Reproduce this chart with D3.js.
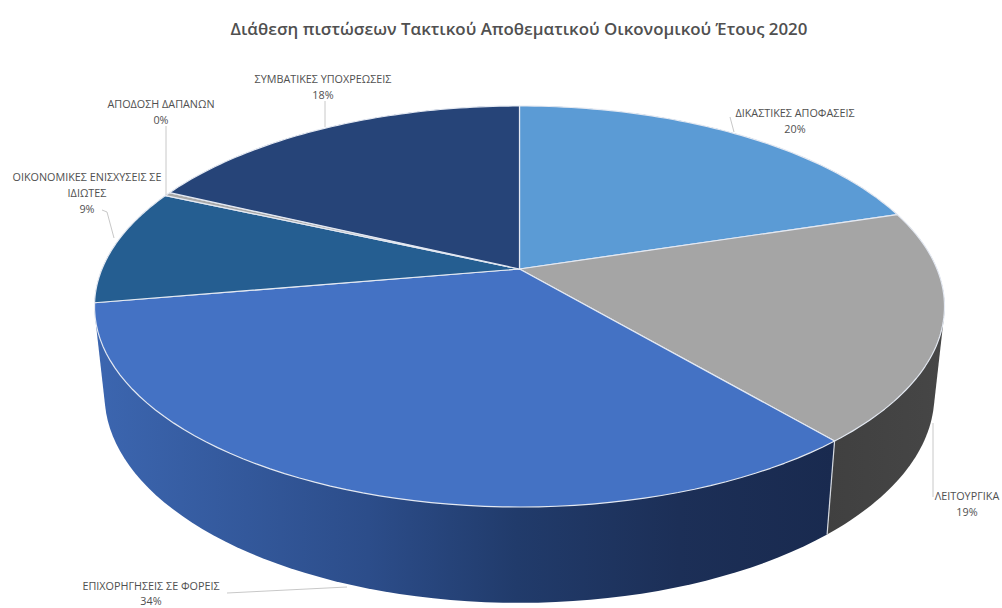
<!DOCTYPE html>
<html>
<head>
<meta charset="utf-8">
<script src="https://cdnjs.cloudflare.com/ajax/libs/d3/7.8.5/d3.min.js"></script>
<style>
  html, body { margin: 0; padding: 0; background: #fff; }
  svg { display: block; }
  text { font-family: "Open Sans", "Noto Sans", sans-serif; fill: #505050; }
</style>
</head>
<body>
<div id="chart"></div>
<script>
const categories = ["ΔΙΚΑΣΤΙΚΕΣ ΑΠΟΦΑΣΕΙΣ", "ΛΕΙΤΟΥΡΓΙΚΑ", "ΕΠΙΧΟΡΗΓΗΣΕΙΣ ΣΕ ΦΟΡΕΙΣ", "ΟΙΚΟΝΟΜΙΚΕΣ ΕΝΙΣΧΥΣΕΙΣ ΣΕ ΙΔΙΩΤΕΣ", "ΑΠΟΔΟΣΗ ΔΑΠΑΝΩΝ", "ΣΥΜΒΑΤΙΚΕΣ ΥΠΟΧΡΕΩΣΕΙΣ"];
const values = [20.2, 18.6, 33.5, 9.4, 0.3, 18.0];
const topColors = ["#5b9bd5", "#a5a5a5", "#4472c4", "#255e91", "#a8a8a8", "#264478"];
const sideColors = ["#3a6a94", "url(#greySide)", "url(#blueSide)", "#1c4a72", "#777", "#1c3359"];
const wallOrder = [0, 5, 4, 3, 1, 2];
const title = "Διάθεση πιστώσεων Τακτικού Αποθεματικού Οικονομικού Έτους 2020";

const width = 1002, height = 608;
const svg = d3.select("#chart").append("svg").attr("width", width).attr("height", height);

// the tilted disc: circle angle -> screen, with a bit of perspective
const persp = -0.187;
const topFace = { cx: 519.5, cy: 269, rx: 417.5, ry: 193.5 };
const bottomFace = { cx: 519.5, cy: 356, rx: 407.6, ry: 200.7 };
const project = (face, a) => {
  const u = Math.sin(a), v = -Math.cos(a), w = 1 + persp * v;
  return [face.cx + face.rx * u / w, face.cy + face.ry * v / w];
};
const arcPoints = (face, a0, a1) => d3.range(0, 61).map(i => project(face, a0 + (a1 - a0) * i / 60));
const line = d3.line();

const slices = d3.pie().sort(null).value(d => d)(values);

const defs = svg.append("defs");
const blueSide = defs.append("linearGradient").attr("id", "blueSide")
  .attr("gradientUnits", "userSpaceOnUse").attr("x1", 94).attr("x2", 835).attr("y1", 0).attr("y2", 0);
[[0, "#3c66b0"], [0.37, "#2c4d8a"], [0.57, "#213b6b"], [0.79, "#1c2f57"], [1, "#192a4f"]].forEach(s => {
  blueSide.append("stop").attr("offset", s[0]).attr("stop-color", s[1]);
});
const greySide = defs.append("linearGradient").attr("id", "greySide")
  .attr("gradientUnits", "userSpaceOnUse").attr("x1", 827).attr("x2", 945).attr("y1", 0).attr("y2", 0);
greySide.append("stop").attr("offset", 0).attr("stop-color", "#404040");
greySide.append("stop").attr("offset", 1).attr("stop-color", "#464646");

// side walls first, the top face covers whatever is at the back
// hull so the wall also fills the tangent part at the far left and right
svg.append("g").selectAll("path").data(wallOrder).enter().append("path")
  .attr("d", i => {
    const d = slices[i];
    const pts = arcPoints(topFace, d.startAngle, d.endAngle).concat(arcPoints(bottomFace, d.endAngle, d.startAngle));
    return line(d3.polygonHull(pts)) + "Z";
  })
  .attr("fill", i => sideColors[i]);

// light edge where the walls of the two front slices meet
svg.append("path")
  .attr("d", line([project(topFace, slices[1].endAngle), project(bottomFace, slices[1].endAngle)]))
  .attr("stroke", "#d5d9e0").attr("stroke-width", 1.2).attr("fill", "none");

svg.append("g").selectAll("path").data(slices).enter().append("path")
  .attr("d", d => line([[topFace.cx, topFace.cy]].concat(arcPoints(topFace, d.startAngle, d.endAngle))) + "Z")
  .attr("fill", (d, i) => topColors[i])
  .attr("stroke", "#e4e9f2").attr("stroke-width", 1.2).attr("stroke-linejoin", "round");

svg.append("text").attr("x", 519).attr("y", 35).attr("text-anchor", "middle")
  .style("font-size", "16.9px").style("font-weight", 600).text(title);

// label layout, same order as categories
const labelLayout = [
  { x: 795, y: 117, step: 16, lines: [categories[0]] },
  { x: 967, y: 500, step: 16, lines: [categories[1]] },
  { x: 151, y: 590, step: 15, lines: [categories[2]] },
  { x: 87, y: 181, step: 16, lines: ["ΟΙΚΟΝΟΜΙΚΕΣ ΕΝΙΣΧΥΣΕΙΣ ΣΕ", "ΙΔΙΩΤΕΣ"] },
  { x: 161, y: 108, step: 16, lines: [categories[4]] },
  { x: 323, y: 83, step: 16, lines: [categories[5]] }
];
const leaders = [
  [[730, 117], [734, 132]],
  [[933, 497], [933, 423]],
  [[227, 593], [347, 587]],
  [[102, 210], [107, 212], [114, 238]],
  [[166, 126], [166, 195]],
  [[325, 101], [325, 127]]
];

svg.append("g").selectAll("path").data(leaders).enter().append("path")
  .attr("d", d => line(d)).attr("fill", "none").attr("stroke", "#c8c8c8").attr("stroke-width", 1);

labelLayout.forEach((l, i) => {
  const t = svg.append("text").attr("text-anchor", "middle").style("font-size", "10.8px");
  l.lines.concat([Math.round(values[i]) + "%"]).forEach((s, k) => {
    t.append("tspan").attr("x", l.x).attr("y", l.y + k * l.step).text(s);
  });
});
</script>
</body>
</html>
